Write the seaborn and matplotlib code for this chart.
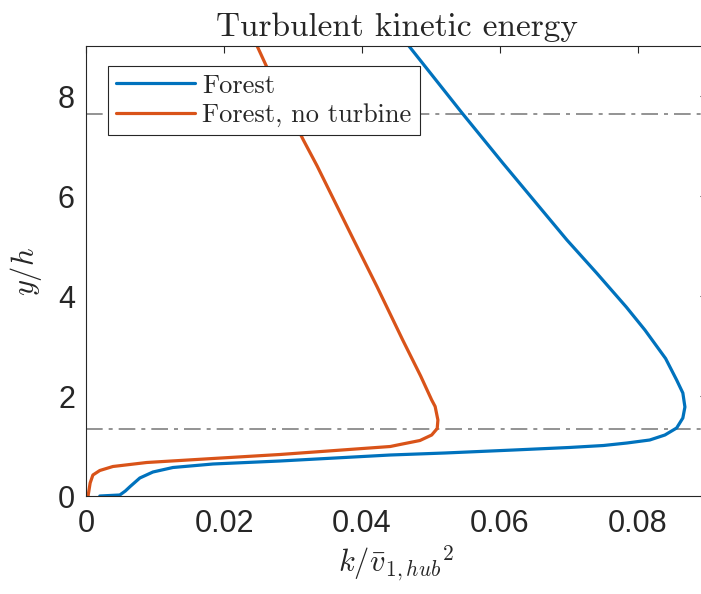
import matplotlib
matplotlib.use("Agg")
import matplotlib.pyplot as plt
import seaborn as sns
import pandas as pd

# profile of Forest case (k, y/h)
forest_k = [0.0020, 0.0049, 0.0057, 0.0064, 0.0078, 0.0097, 0.0126, 0.0184, 0.0281,
            0.0441, 0.0520, 0.0620, 0.0700, 0.0750, 0.0784, 0.0817, 0.0839, 0.0856,
            0.0865, 0.0868, 0.0865, 0.0856, 0.0840, 0.0810, 0.0783, 0.0740, 0.0697,
            0.0604, 0.0545, 0.0468]
forest_y = [0.00, 0.02, 0.10, 0.19, 0.36, 0.48, 0.57, 0.64, 0.70,
            0.82, 0.86, 0.92, 0.97, 1.01, 1.06, 1.12, 1.22, 1.36,
            1.56, 1.78, 2.06, 2.32, 2.75, 3.32, 3.78, 4.46, 5.12,
            6.66, 7.66, 9.00]

# profile of Forest, no turbine case
noturb_k = [0.0003, 0.0006, 0.0010, 0.0020, 0.0039, 0.0088, 0.0184, 0.0281, 0.0441,
            0.0455, 0.0484, 0.0501, 0.0509, 0.0510, 0.0506, 0.0501, 0.0485, 0.0459,
            0.0422, 0.0388, 0.0335, 0.0315, 0.0262, 0.0248]
noturb_y = [0.00, 0.26, 0.42, 0.51, 0.59, 0.67, 0.75, 0.83, 0.99,
            1.03, 1.11, 1.22, 1.35, 1.52, 1.79, 1.92, 2.40, 3.12,
            4.18, 5.12, 6.60, 7.12, 8.58, 9.00]

# reference heights (dash-dot lines)
ref_heights = [1.35, 7.65]

df = pd.concat([
    pd.DataFrame({"k": forest_k, "y": forest_y, "case": "Forest"}),
    pd.DataFrame({"k": noturb_k, "y": noturb_y, "case": "Forest, no turbine"}),
])

sns.set_style("white")
plt.rcParams["mathtext.fontset"] = "cm"
plt.rcParams["font.family"] = ["Liberation Sans", "DejaVu Sans"]

fig = plt.figure(figsize=(7.01, 5.94), dpi=100)
ax = fig.add_axes([86 / 701, 98 / 594, 621 / 701, 450 / 594])

sns.lineplot(data=df, x="k", y="y", hue="case", sort=False, estimator=None,
             palette=["#0072BD", "#D95319"], linewidth=2.3, ax=ax)

for h in ref_heights:
    ax.axhline(h, color="#808080", linewidth=1.2, linestyle=(0, (10, 3.6, 2.4, 3.6)), zorder=0)

ax.set_xlim(0, 0.09)
ax.set_ylim(0, 9)
ax.set_xticks([0, 0.02, 0.04, 0.06, 0.08])
ax.set_xticklabels(["0", "0.02", "0.04", "0.06", "0.08"])
ax.set_yticks([0, 2, 4, 6, 8])
ax.tick_params(direction="in", length=5, width=0.8, colors="#262626", labelsize=22,
               top=True, right=True)
ax.tick_params(axis="x", pad=9)
ax.tick_params(axis="y", pad=8)
for s in ax.spines.values():
    s.set_color("#262626")
    s.set_linewidth(0.8)

ax.set_xlabel(r"$k/{\bar{v}_{1,hub}}^2$", fontsize=22, color="#262626", labelpad=4)
ax.set_ylabel(r"$y/h$", fontsize=22, color="#262626", labelpad=10)
ax.set_title("Turbulent kinetic energy", fontfamily="cmr10", fontsize=24, pad=7)

leg = ax.legend(loc="upper left", bbox_to_anchor=(22 / 621, 430 / 450), borderaxespad=0,
                prop={"family": "cmr10", "size": 19}, fancybox=False, framealpha=1,
                edgecolor="#262626", handlelength=3.0, handletextpad=0.28,
                labelspacing=0.22, borderpad=0.3)
leg.get_frame().set_linewidth(0.8)

fig.savefig("out.png", dpi=100)
